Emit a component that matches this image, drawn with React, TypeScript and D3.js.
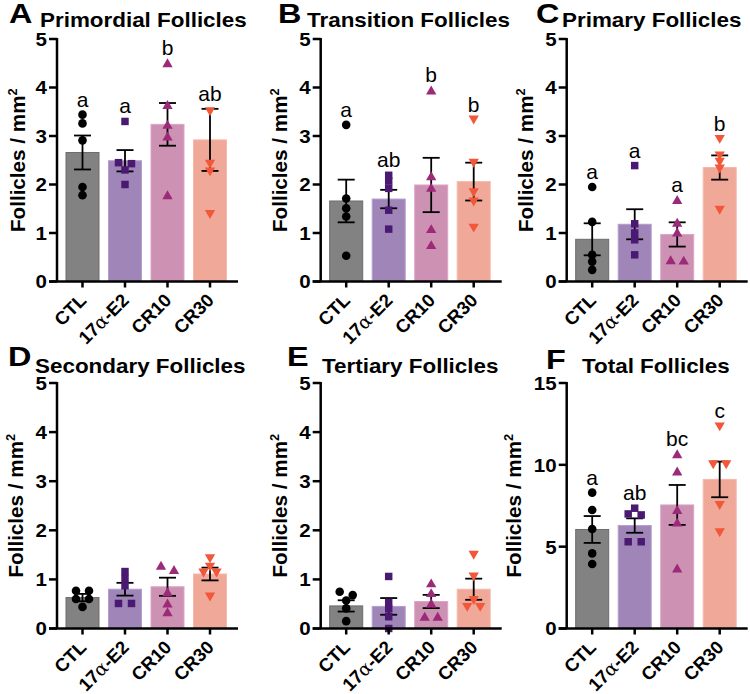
import React from "react";
import * as d3 from "d3";

const categories = ["CTL", "17α-E2", "CR10", "CR30"];

const primordialMean = [2.66, 2.49, 3.24, 2.92];
const primordialSem = [0.35, 0.22, 0.44, 0.64];
const primordialPoints = [
  [3.44, 3.26, 2.91, 1.95, 1.78],
  [3.3, 2.45, 2.43, 2.3, 2.0],
  [4.5, 3.64, 3.23, 2.99, 1.78],
  [3.51, 2.43, 2.27, 1.39],
];
const primordialLetters = ["a", "a", "b", "ab"];

const transitionMean = [1.66, 1.7, 1.99, 2.06];
const transitionSem = [0.44, 0.19, 0.56, 0.39];
const transitionPoints = [
  [3.23, 1.71, 1.51, 1.34, 0.53],
  [2.19, 2.07, 1.92, 1.47, 1.08],
  [3.94, 2.17, 1.93, 1.08, 0.75],
  [3.34, 2.45, 1.84, 1.65, 1.11],
];
const transitionLetters = ["a", "ab", "b", "b"];

const primaryMean = [0.87, 1.18, 0.97, 2.35];
const primarySem = [0.33, 0.31, 0.25, 0.25];
const primaryPoints = [
  [1.95, 1.23, 0.55, 0.41, 0.24],
  [2.39, 1.19, 1.0, 0.86, 0.55],
  [1.68, 1.21, 1.01, 0.44, 0.43],
  [2.94, 2.6, 2.47, 2.33, 1.48],
];
const primaryLetters = ["a", "a", "a", "b"];

const secondaryMean = [0.63, 0.8, 0.85, 1.11];
const secondarySem = [0.075, 0.13, 0.185, 0.13];
const secondaryPoints = [
  [0.77, 0.77, 0.6, 0.6, 0.44],
  [1.16, 1.02, 0.87, 0.51, 0.51],
  [1.28, 1.19, 0.74, 0.51, 0.33],
  [1.43, 1.26, 1.14, 1.14, 0.65],
];
const secondaryLetters: string[] = [];

const tertiaryMean = [0.46, 0.45, 0.55, 0.8];
const tertiarySem = [0.115, 0.17, 0.135, 0.215];
const tertiaryPoints = [
  [0.75, 0.68, 0.57, 0.41, 0.15],
  [1.06, 0.53, 0.4, 0.24, 0.0],
  [0.92, 0.72, 0.51, 0.24, 0.24],
  [1.5, 1.06, 0.58, 0.44, 0.44],
];
const tertiaryLetters: string[] = [];

const totalMean = [6.05, 6.29, 7.55, 9.11];
const totalSem = [0.82, 0.44, 1.22, 1.09];
const totalPoints = [
  [8.3, 7.24, 6.08, 4.59, 3.94],
  [7.35, 7.0, 6.94, 5.3, 5.3],
  [10.65, 9.59, 7.24, 6.47, 3.67],
  [12.35, 10.04, 10.04, 7.55, 5.88],
];
const totalLetters = ["a", "ab", "bc", "c"];

const ticksFive = [0, 1, 2, 3, 4, 5];
const ticksFifteen = [0, 5, 10, 15];

const barFill = ["#828282", "#a086b8", "#cc91b3", "#f0a899"];
const barStroke = ["#6c6c6c", "#b59cd0", "#dba6c6", "#f6b8aa"];
const markFill = ["#000000", "#4a1a72", "#9c2a78", "#f2573a"];
const markShapes = [d3.symbolCircle, d3.symbolSquare, d3.symbolTriangle, d3.symbolTriangle];
const markSizes = [58, 56, 46, 46];

const FONT = "'Liberation Sans', Arial, sans-serif";

type PanelCfg = {
  letter: string;
  title: string;
  ax: number;
  y0: number;
  y1: number;
  ticks: number[];
  mean: number[];
  sem: number[];
  points: number[][];
  letters: string[];
  letterX: number;
  titleX: number;
  letterY: number;
  titleY: number;
  ylabOffset: number;
};

const panels: PanelCfg[] = [
  { letter: "A", title: "Primordial Follicles", ax: 57, y0: 281.5, y1: 39, ticks: ticksFive, mean: primordialMean, sem: primordialSem, points: primordialPoints, letters: primordialLetters, letterX: 9, titleX: 40, letterY: 23, titleY: 27, ylabOffset: 32 },
  { letter: "B", title: "Transition Follicles", ax: 320.7, y0: 281.5, y1: 39, ticks: ticksFive, mean: transitionMean, sem: transitionSem, points: transitionPoints, letters: transitionLetters, letterX: 278, titleX: 307, letterY: 23, titleY: 27, ylabOffset: 34 },
  { letter: "C", title: "Primary Follicles", ax: 566.7, y0: 281.5, y1: 39, ticks: ticksFive, mean: primaryMean, sem: primarySem, points: primaryPoints, letters: primaryLetters, letterX: 536, titleX: 562, letterY: 23, titleY: 27, ylabOffset: 34 },
  { letter: "D", title: "Secondary Follicles", ax: 57, y0: 628.5, y1: 383, ticks: ticksFive, mean: secondaryMean, sem: secondarySem, points: secondaryPoints, letters: secondaryLetters, letterX: 8, titleX: 35, letterY: 366, titleY: 373, ylabOffset: 34 },
  { letter: "E", title: "Tertiary Follicles", ax: 320.7, y0: 628.5, y1: 383, ticks: ticksFive, mean: tertiaryMean, sem: tertiarySem, points: tertiaryPoints, letters: tertiaryLetters, letterX: 287, titleX: 322, letterY: 366, titleY: 373, ylabOffset: 34 },
  { letter: "F", title: "Total Follicles", ax: 566.7, y0: 628.5, y1: 383, ticks: ticksFifteen, mean: totalMean, sem: totalSem, points: totalPoints, letters: totalLetters, letterX: 546, titleX: 582, letterY: 369, titleY: 373, ylabOffset: 46 },
];

function layoutOffsets(vals: number[], y: (v: number) => number): { v: number; dx: number }[] {
  const sorted = [...vals].sort((a, b) => b - a);
  const rows: number[][] = [];
  sorted.forEach((v) => {
    const last = rows[rows.length - 1];
    if (last && Math.abs(y(last[last.length - 1]) - y(v)) < 5) last.push(v);
    else rows.push([v]);
  });
  const out: { v: number; dx: number }[] = [];
  const spacing = 13;
  rows.forEach((r) => r.forEach((v, i) => out.push({ v, dx: (i - (r.length - 1) / 2) * spacing })));
  return out;
}

function SText({
  x,
  y,
  sx = 1,
  size,
  weight = "bold",
  anchor = "start",
  rotate = 0,
  dy,
  children,
}: {
  x: number;
  y: number;
  sx?: number;
  size: number;
  weight?: string;
  anchor?: string;
  rotate?: number;
  dy?: string;
  children: React.ReactNode;
}) {
  return (
    <text
      transform={`translate(${x},${y})${rotate ? ` rotate(${rotate})` : ""} scale(${sx},1)`}
      dy={dy}
      textAnchor={anchor}
      fontFamily={FONT}
      fontWeight={weight}
      fontSize={size}
      fill="#000"
    >
      {children}
    </text>
  );
}

function Panel({ p }: { p: PanelCfg }) {
  const ymax = p.ticks[p.ticks.length - 1];
  const y = d3.scaleLinear().domain([0, ymax]).range([p.y0, p.y1]);
  const x = d3
    .scaleBand<string>()
    .domain(categories)
    .range([p.ax + 4.25, p.ax + 174.25])
    .paddingInner(0.2)
    .paddingOuter(0.1);
  const bw = x.bandwidth();
  const capHalf = 8.5;
  const midY = (p.y0 + p.y1) / 2;
  return (
    <g>
      <SText x={p.letterX} y={p.letterY} size={27} sx={1.2}>
        {p.letter}
      </SText>
      <SText x={p.titleX} y={p.titleY} size={19.5} sx={1.15}>
        {p.title}
      </SText>
      {categories.map((c, i) => (
        <rect
          key={"b" + c}
          x={x(c)! + 0.5}
          y={y(p.mean[i])}
          width={bw - 1}
          height={p.y0 - y(p.mean[i])}
          fill={barFill[i]}
          stroke={barStroke[i]}
          strokeWidth={1}
        />
      ))}
      {categories.map((c, i) => {
        const cx = x(c)! + bw / 2;
        const t = y(p.mean[i] + p.sem[i]);
        const b = y(Math.max(0, p.mean[i] - p.sem[i]));
        return (
          <g key={"e" + c} stroke="#000" strokeWidth={1.8}>
            <line x1={cx} x2={cx} y1={t} y2={b} />
            <line x1={cx - capHalf} x2={cx + capHalf} y1={t} y2={t} />
            <line x1={cx - capHalf} x2={cx + capHalf} y1={b} y2={b} />
          </g>
        );
      })}
      {categories.map((c, i) => {
        const cx = x(c)! + bw / 2;
        const sym = d3.symbol().type(markShapes[i]).size(markSizes[i])()!;
        return (
          <g key={"p" + c}>
            {layoutOffsets(p.points[i], y).map((pt, k) => (
              <path
                key={k}
                d={sym}
                fill={markFill[i]}
                transform={`translate(${cx + pt.dx},${y(pt.v) + (i === 2 ? 1 : i === 3 ? -1 : 0)})${i === 3 ? " rotate(180)" : ""}`}
              />
            ))}
          </g>
        );
      })}
      {p.letters.map((l, i) => {
        const c = categories[i];
        const cx = x(c)! + bw / 2;
        const top = Math.max(d3.max(p.points[i])!, p.mean[i] + p.sem[i]);
        return (
          <SText key={"l" + i} x={cx} y={y(top) - 8} size={20} sx={1.05} weight="normal" anchor="middle">
            {l}
          </SText>
        );
      })}
      <line x1={p.ax} x2={p.ax} y1={p.y0} y2={p.y1 - 1} stroke="#000" strokeWidth={2.5} />
      <line x1={p.ax - 8} x2={p.ax + 181} y1={p.y0} y2={p.y0} stroke="#000" strokeWidth={2.5} />
      {p.ticks.map((t) => (
        <g key={"t" + t}>
          <line x1={p.ax - 8} x2={p.ax} y1={y(t)} y2={y(t)} stroke="#000" strokeWidth={2.5} />
          <SText x={p.ax - 10} y={y(t)} dy="0.36em" anchor="end" size={19} sx={1.08}>
            {t}
          </SText>
        </g>
      ))}
      {categories.map((c) => {
        const cx = x(c)! + bw / 2;
        return (
          <g key={"x" + c}>
            <line x1={cx} x2={cx} y1={p.y0} y2={p.y0 + 6} stroke="#000" strokeWidth={2.5} />
            <SText x={cx + 5} y={p.y0 + 20} rotate={-45} anchor="end" size={18.5}>
              {c.includes("α") ? (
                <>
                  17
                  <tspan fontFamily="'DejaVu Serif', serif" fontWeight="normal">
                    α
                  </tspan>
                  -E2
                </>
              ) : (
                c
              )}
            </SText>
          </g>
        );
      })}
      <SText x={p.ax - p.ylabOffset} y={midY} rotate={-90} anchor="middle" size={19.5} sx={1.06}>
        Follicles / mm
        <tspan fontSize={12} dy={-8}>
          2
        </tspan>
      </SText>
    </g>
  );
}

export default function App() {
  return (
    <svg
      width={750}
      height={694}
      viewBox="0 0 750 694"
      style={{ position: "absolute", left: 0, top: 0, background: "#fff" }}
    >
      <rect width={750} height={694} fill="#fff" />
      {panels.map((p) => (
        <Panel key={p.letter} p={p} />
      ))}
    </svg>
  );
}
